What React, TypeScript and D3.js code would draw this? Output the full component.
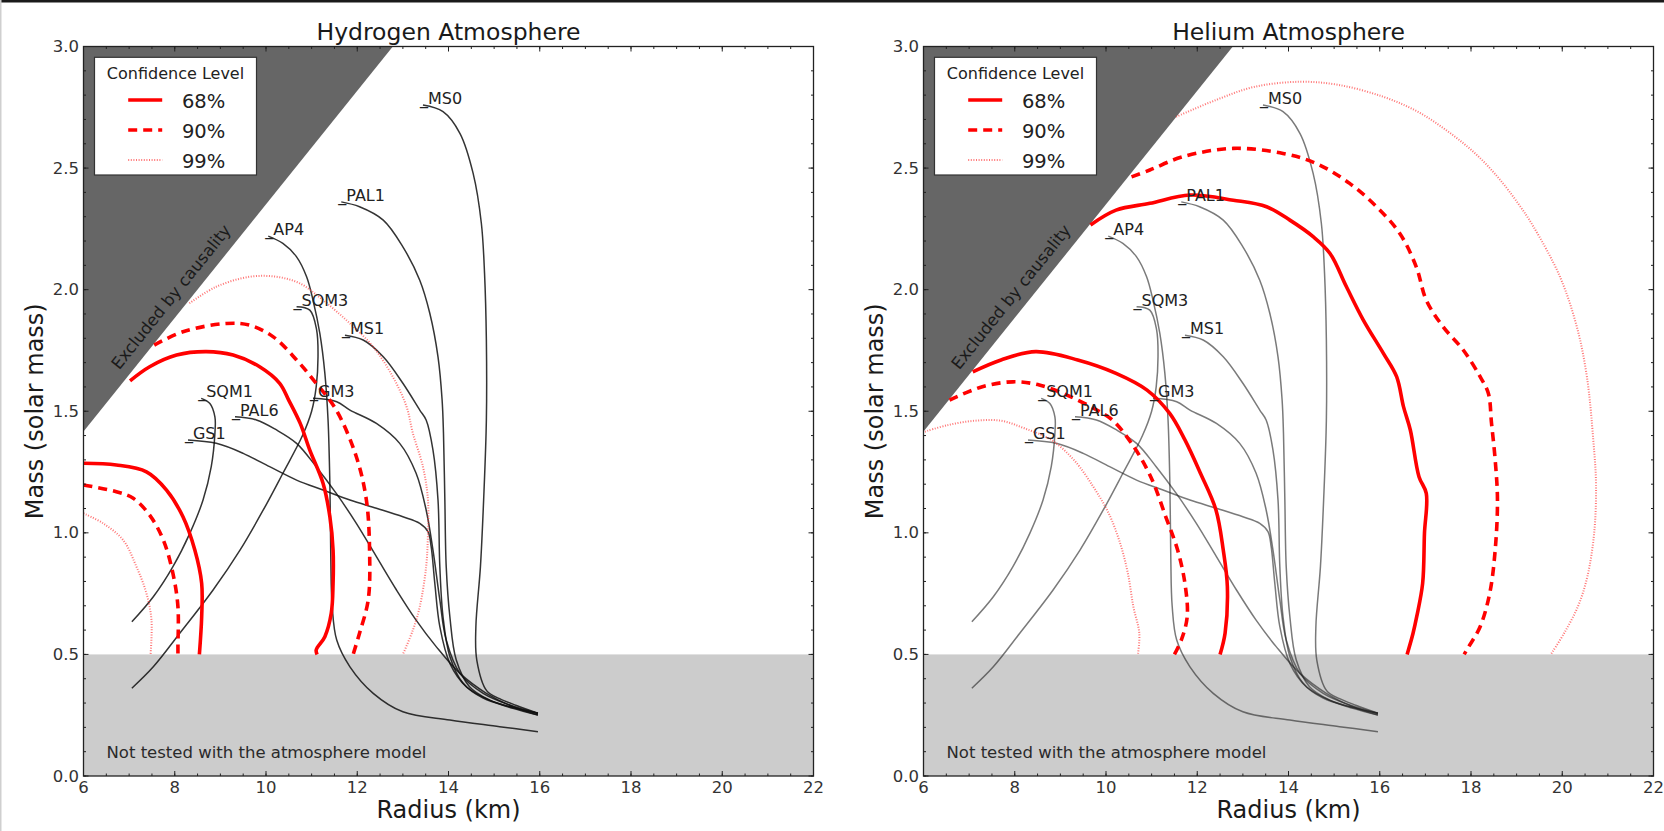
import React from 'react';
import * as d3 from 'd3';

// mass-radius plane, two atmosphere models
const xDomain = [6, 22];
const yDomain = [0, 3];
const xMajor = d3.range(6, 23, 2);
const xMinor = d3.range(6, 22.01, 0.5);
const yMajor = d3.range(0, 3.01, 0.5);
const yMinor = d3.range(0, 3.001, 0.1);

const causalityEdge = [[6, 1.417], [12.78, 3.0]];
const untestedMass = 0.5;

const confidenceLevels = ['68%', '90%', '99%'];

// equations of state (same in both panels), first point = max mass, label sits there
const eosNames = ['MS0', 'PAL1', 'AP4', 'SQM3', 'MS1', 'GM3', 'SQM1', 'PAL6', 'GS1'];
const eosMS0 = [[13.44,2.759],[13.88,2.732],[14.25,2.643],[14.54,2.478],[14.72,2.273],[14.79,2.067],[14.83,1.793],[14.83,1.464],[14.77,1.135],[14.70,0.861],[14.60,0.614],[14.62,0.477],[14.84,0.350],[15.12,0.318],[15.49,0.290],[15.96,0.258]];
const eosPAL1 = [[11.65,2.361],[12.05,2.341],[12.57,2.286],[13.0,2.176],[13.37,2.039],[13.59,1.903],[13.77,1.724],[13.86,1.546],[13.89,1.409],[13.92,1.135],[13.95,0.861],[14.03,0.655],[14.17,0.477],[14.46,0.367],[14.9,0.312],[15.41,0.278],[15.96,0.251]];
const eosAP4 = [[10.05,2.220],[10.37,2.190],[10.67,2.135],[10.89,2.053],[11.03,1.957],[11.18,1.820],[11.29,1.656],[11.36,1.464],[11.4,1.2],[11.42,0.9],[11.45,0.7],[11.55,0.559],[11.84,0.449],[12.35,0.340],[13.0,0.264],[14.03,0.230],[15.12,0.203],[15.96,0.182]];
const eosSQM3 = [[10.67,1.930],[10.96,1.916],[11.11,1.834],[11.14,1.724],[11.10,1.60],[11.0,1.50],[10.80,1.40],[10.37,1.245],[9.94,1.094],[9.43,0.929],[8.84,0.765],[8.11,0.587],[7.53,0.449],[7.06,0.361]];
const eosMS1 = [[11.73,1.813],[12.13,1.793],[12.57,1.724],[13.0,1.615],[13.37,1.505],[13.51,1.464],[13.66,1.340],[13.77,1.135],[13.81,0.861],[13.88,0.655],[14.03,0.491],[14.32,0.381],[14.76,0.320],[15.34,0.285],[15.96,0.258]];
const eosGM3 = [[11.03,1.553],[11.55,1.539],[11.84,1.505],[12.42,1.450],[12.93,1.368],[13.29,1.245],[13.51,1.094],[13.66,0.929],[13.81,0.724],[13.95,0.559],[14.25,0.422],[14.76,0.340],[15.34,0.292],[15.96,0.258]];
const eosSQM1 = [[8.58,1.553],[8.77,1.532],[8.88,1.477],[8.88,1.409],[8.80,1.272],[8.62,1.135],[8.33,0.998],[7.96,0.861],[7.53,0.737],[7.06,0.634]];
const eosPAL6 = [[9.32,1.477],[9.79,1.464],[10.23,1.423],[10.67,1.368],[11.1,1.272],[11.54,1.162],[11.98,1.039],[12.42,0.902],[12.86,0.765],[13.29,0.641],[13.73,0.532],[14.25,0.422],[14.83,0.340],[15.41,0.285],[15.96,0.251]];
const eosGS1 = [[8.29,1.382],[8.91,1.368],[9.50,1.327],[10.08,1.272],[10.67,1.217],[11.25,1.176],[11.84,1.135],[12.42,1.101],[13.0,1.066],[13.37,1.039],[13.55,1.005],[13.62,0.943],[13.70,0.792],[13.81,0.614],[14.03,0.463],[14.39,0.367],[14.9,0.312],[15.49,0.278],[15.96,0.258]];
const eosCurves = [eosMS0, eosPAL1, eosAP4, eosSQM3, eosMS1, eosGM3, eosSQM1, eosPAL6, eosGS1];

// hydrogen atmosphere contours (inner + outer boundary per level)
const h68Outer = [[7.02,1.625],[7.45,1.683],[8.04,1.731],[8.69,1.745],[9.28,1.731],[9.86,1.683],[10.30,1.615],[10.50,1.545],[10.75,1.45],[10.96,1.34],[11.25,1.204],[11.40,1.066],[11.47,0.929],[11.47,0.792],[11.43,0.669],[11.29,0.573],[11.10,0.518],[11.12,0.5]];
const h68Inner = [[6.0,1.286],[6.72,1.279],[7.38,1.251],[7.82,1.176],[8.18,1.066],[8.44,0.929],[8.59,0.792],[8.59,0.655],[8.54,0.5]];
const h90Outer = [[7.55,1.772],[8.18,1.827],[9.13,1.861],[9.64,1.854],[10.16,1.806],[10.67,1.711],[11.1,1.615],[11.54,1.505],[11.98,1.313],[12.2,1.135],[12.27,0.929],[12.24,0.724],[12.05,0.587],[11.91,0.5]];
const h90Inner = [[6.0,1.197],[6.72,1.169],[7.09,1.142],[7.45,1.073],[7.75,0.970],[7.96,0.833],[8.07,0.696],[8.07,0.532],[8.07,0.5]];
const h99Outer = [[8.32,1.944],[8.91,2.012],[9.64,2.053],[10.23,2.053],[10.74,2.026],[11.25,1.957],[11.84,1.861],[12.35,1.765],[12.78,1.642],[13.08,1.519],[13.22,1.409],[13.44,1.272],[13.55,1.135],[13.55,0.998],[13.51,0.861],[13.37,0.696],[13.22,0.600],[13.0,0.5]];
const h99Inner = [[6.0,1.080],[6.43,1.039],[6.87,0.970],[7.16,0.861],[7.38,0.751],[7.49,0.641],[7.47,0.5]];

// helium atmosphere contours
const he68Outer = [[9.66,2.266],[10.22,2.327],[10.96,2.355],[11.84,2.389],[12.79,2.368],[13.52,2.341],[14.03,2.286],[14.54,2.218],[14.91,2.149],[15.27,2.012],[15.64,1.875],[16.08,1.738],[16.37,1.642],[16.52,1.519],[16.67,1.423],[16.86,1.231],[17.02,1.162],[16.98,0.998],[16.94,0.792],[16.81,0.655],[16.73,0.587],[16.60,0.5]];
const he68Inner = [[7.08,1.662],[7.70,1.711],[8.46,1.745],[9.38,1.711],[10.22,1.656],[10.90,1.587],[11.40,1.49],[11.73,1.382],[12.07,1.245],[12.41,1.094],[12.57,0.929],[12.66,0.778],[12.61,0.587],[12.5,0.5]];
const he90Outer = [[10.56,2.464],[10.96,2.492],[11.69,2.547],[12.79,2.581],[13.88,2.560],[14.61,2.519],[15.34,2.437],[15.93,2.341],[16.44,2.231],[16.80,2.094],[17.02,1.957],[17.39,1.847],[17.83,1.752],[18.2,1.642],[18.38,1.574],[18.45,1.45],[18.53,1.30],[18.58,1.135],[18.53,0.929],[18.41,0.751],[18.20,0.614],[17.95,0.532],[17.85,0.5]];
const he90Inner = [[6.57,1.546],[7.29,1.601],[7.96,1.621],[8.54,1.608],[9.22,1.560],[9.80,1.505],[10.14,1.464],[10.56,1.368],[10.98,1.231],[11.31,1.066],[11.57,0.929],[11.73,0.792],[11.78,0.655],[11.65,0.559],[11.5,0.5]];
const he99Outer = [[11.54,2.711],[12.41,2.78],[13.25,2.834],[14.26,2.855],[15.1,2.842],[16.08,2.793],[16.85,2.73],[17.55,2.643],[18.15,2.55],[18.64,2.451],[19.05,2.35],[19.37,2.259],[19.95,2.053],[20.32,1.847],[20.54,1.642],[20.68,1.382],[20.74,1.2],[20.7,1.0],[20.55,0.82],[20.35,0.7],[20.05,0.59],[19.75,0.5]];
const he99Inner = [[6.03,1.416],[6.53,1.443],[7.12,1.461],[7.70,1.461],[8.21,1.430],[8.80,1.382],[9.30,1.299],[9.72,1.190],[10.06,1.080],[10.31,0.957],[10.48,0.833],[10.60,0.696],[10.73,0.587],[10.7,0.5]];

const hydrogenContours = [[h68Inner, h68Outer], [h90Inner, h90Outer], [h99Inner, h99Outer]];
const heliumContours = [[he68Inner, he68Outer], [he90Inner, he90Outer], [he99Inner, he99Outer]];

const FONT = "'DejaVu Sans', sans-serif";
const TOP = 46.5, BOTTOM = 776, PW = 730;

const levelStyle = [
  { stroke: '#ff0000', width: 3.6, dash: null, opacity: 1 },
  { stroke: '#ff0000', width: 3.6, dash: '9,6', opacity: 1 },
  { stroke: '#ff3a3a', width: 2, dash: '1,1.6', opacity: 0.7 },
];

function Panel({ left, title, contours, eosColor, eosOpacity, clipId }) {
  const x = d3.scaleLinear().domain(xDomain).range([left, left + PW]);
  const y = d3.scaleLinear().domain(yDomain).range([BOTTOM, TOP]);
  const line = d3.line().x(d => x(d[0])).y(d => y(d[1])).curve(d3.curveCatmullRom.alpha(0.5));

  const [c0, c1] = causalityEdge;
  const tri = [[c0[0], yDomain[1]], [c1[0], c1[1]], [c0[0], c0[1]]];
  const ang = -Math.atan2(y(c0[1]) - y(c1[1]), x(c1[0]) - x(c0[0])) * 180 / Math.PI;

  const lx = left + 11, ly = 57.3;

  return (
    <g>
      <defs>
        <clipPath id={clipId}><rect x={left} y={TOP} width={PW} height={BOTTOM - TOP} /></clipPath>
      </defs>
      <g clipPath={`url(#${clipId})`}>
        <rect x={left} y={y(untestedMass)} width={PW} height={y(0) - y(untestedMass)} fill="#cccccc" />
        <polygon points={tri.map(d => `${x(d[0])},${y(d[1])}`).join(' ')} fill="#666666" />
        <text x={x(7.92)} y={y(1.97)} transform={`rotate(${ang},${x(7.92)},${y(1.97)})`}
          textAnchor="middle" dominantBaseline="central" fontSize={16.5} fontFamily={FONT} fill="#1a1a1a">
          Excluded by causality
        </text>
        <text x={left + 23} y={y(0.1) + 6} fontSize={16.5} fontFamily={FONT} fill="#2a2a2a">
          Not tested with the atmosphere model
        </text>
        {eosCurves.map((c, i) => (
          <path key={'e' + i} d={line(c)} fill="none" stroke={eosColor} strokeOpacity={eosOpacity} strokeWidth={1.5} />
        ))}
        {contours.map((pair, i) => pair.map((c, j) => (
          <path key={'c' + i + j} d={line(c)} fill="none" stroke={levelStyle[i].stroke}
            strokeOpacity={levelStyle[i].opacity} strokeWidth={levelStyle[i].width}
            strokeDasharray={levelStyle[i].dash || undefined} />
        )))}
        {eosCurves.map((c, i) => (
          <text key={'l' + i} x={x(c[0][0]) - 3} y={y(c[0][1]) - 1} fontSize={16} fontFamily={FONT} fill="#222">
            {'_' + eosNames[i]}
          </text>
        ))}
      </g>

      {/* legend */}
      <rect x={lx} y={ly} width={162} height={117.7} fill="#fff" stroke="#333" strokeWidth={1.2} />
      <text x={lx + 81} y={ly + 21.5} textAnchor="middle" fontSize={16} fontFamily={FONT} fill="#222">Confidence Level</text>
      {confidenceLevels.map((lab, i) => (
        <g key={lab}>
          <line x1={lx + 33.7} x2={lx + 67.7} y1={ly + 42.7 + i * 30} y2={ly + 42.7 + i * 30}
            stroke={levelStyle[i].stroke} strokeOpacity={levelStyle[i].opacity}
            strokeWidth={levelStyle[i].width} strokeDasharray={levelStyle[i].dash || undefined} />
          <text x={lx + 87.4} y={ly + 50.7 + i * 30} fontSize={19.5} fontFamily={FONT} fill="#222">{lab}</text>
        </g>
      ))}

      {/* frame + ticks */}
      <rect x={left} y={TOP} width={PW} height={BOTTOM - TOP} fill="none" stroke="#222" strokeWidth={1.3} />
      {xMinor.map(v => (
        <g key={'xm' + v} stroke="#222" strokeWidth={1}>
          <line x1={x(v)} x2={x(v)} y1={BOTTOM} y2={BOTTOM - 2.5} />
          <line x1={x(v)} x2={x(v)} y1={TOP} y2={TOP + 2.5} />
        </g>
      ))}
      {xMajor.map(v => (
        <g key={'xM' + v}>
          <line x1={x(v)} x2={x(v)} y1={BOTTOM} y2={BOTTOM - 5} stroke="#222" />
          <line x1={x(v)} x2={x(v)} y1={TOP} y2={TOP + 5} stroke="#222" />
          <text x={x(v)} y={BOTTOM + 17} textAnchor="middle" fontSize={16.5} fontFamily={FONT} fill="#333">{v}</text>
        </g>
      ))}
      {yMinor.map(v => (
        <g key={'ym' + v} stroke="#222" strokeWidth={1}>
          <line x1={left} x2={left + 2.5} y1={y(v)} y2={y(v)} />
          <line x1={left + PW} x2={left + PW - 2.5} y1={y(v)} y2={y(v)} />
        </g>
      ))}
      {yMajor.map(v => (
        <g key={'yM' + v}>
          <line x1={left} x2={left + 5} y1={y(v)} y2={y(v)} stroke="#222" />
          <line x1={left + PW} x2={left + PW - 5} y1={y(v)} y2={y(v)} stroke="#222" />
          <text x={left - 4.5} y={y(v)} textAnchor="end" dominantBaseline="central" fontSize={16.5} fontFamily={FONT} fill="#333">
            {d3.format('.1f')(v)}
          </text>
        </g>
      ))}

      <text x={left + PW / 2} y={39.5} textAnchor="middle" fontSize={23.5} fontFamily={FONT} fill="#1a1a1a">{title}</text>
      <text x={left + PW / 2} y={818} textAnchor="middle" fontSize={24} fontFamily={FONT} fill="#1a1a1a">Radius (km)</text>
      <text transform={`translate(${left - 41},${(TOP + BOTTOM) / 2}) rotate(-90)`} textAnchor="middle"
        fontSize={24} fontFamily={FONT} fill="#1a1a1a">Mass (solar mass)</text>
    </g>
  );
}

export default function App() {
  return (
    <svg width={1664} height={831} style={{ position: 'absolute', left: 0, top: 0, background: '#fff' }}>
      <rect x={0} y={0} width={1664} height={831} fill="#fff" />
      <rect x={0} y={0} width={1664} height={2.5} fill="#1a1a1a" />
      <rect x={0} y={0} width={1.5} height={831} fill="#cfcfcf" />
      <Panel left={83.5} title="Hydrogen Atmosphere" contours={hydrogenContours} eosColor="#111" eosOpacity={0.85} clipId="clipH" />
      <Panel left={923.5} title="Helium Atmosphere" contours={heliumContours} eosColor="#222" eosOpacity={0.6} clipId="clipHe" />
    </svg>
  );
}
